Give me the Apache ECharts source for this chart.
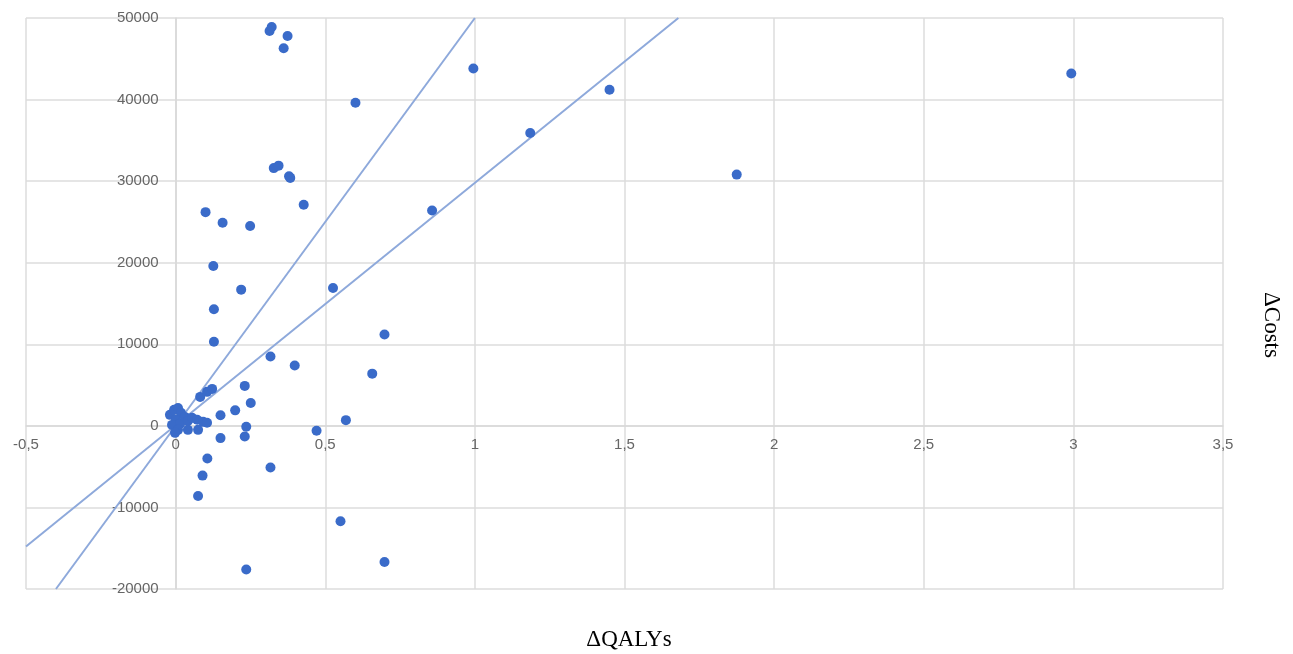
<!DOCTYPE html>
<html>
<head>
<meta charset="utf-8">
<style>
  html, body { margin: 0; padding: 0; background: #fff; }
  #chart { width: 1293px; height: 654px; }
</style>
</head>
<body>
<div id="chart"></div>
<script src="https://cdn.jsdelivr.net/npm/echarts@6/dist/echarts.min.js"></script>
<script>
// incremental QALYs / costs per study
var points = [
  [0.314, 48400], [0.321, 48900], [0.374, 47800], [0.361, 46300],
  [0.601, 39600], [0.328, 31600], [0.344, 31900], [0.379, 30600], [0.383, 30400],
  [0.428, 27100], [0.100, 26200], [0.157, 24900], [0.249, 24500],
  [0.857, 26400], [0.126, 19600], [0.219, 16700], [0.526, 16900],
  [0.995, 43800], [1.450, 41200], [1.185, 35900], [1.875, 30800], [2.993, 43200],
  [0.128, 14300], [0.128, 10300], [0.698, 11200], [0.317, 8500], [0.398, 7400],
  [0.657, 6400], [0.231, 4900], [0.251, 2800], [0.199, 1900], [0.150, 1300],
  [0.569, 700], [0.236, -100], [0.471, -600], [0.231, -1300], [0.150, -1500],
  [0.106, -4000], [0.317, -5100], [0.090, -6100], [0.075, -8600],
  [0.551, -11700], [0.698, -16700], [0.236, -17600],
  [0.082, 3550], [0.105, 4170], [0.122, 4530],
  [-0.019, 1350], [-0.005, 1960], [0.008, 2200], [0.018, 1600], [0.001, 740],
  [-0.012, 120], [0.015, 250], [0.031, 1100], [0.041, 610], [0.055, 980],
  [0.072, 740], [0.092, 490], [0.105, 370], [0.041, -490], [0.075, -490],
  [0.008, -490], [-0.002, -860]
];

// threshold lines (end points)
var lineSteep = [[-0.4, -20000], [1, 50000]];
var lineShallow = [[-0.5, -14800], [1.68, 50000]];

var xTicks = { min: -0.5, max: 3.5, interval: 0.5 };
var yTicks = { min: -20000, max: 50000, interval: 10000 };

var chart = echarts.init(document.getElementById('chart'));

function fmt(v) {
    return String(v).replace('.', ',');
}

var option = {
    animation: false,
    grid: { left: 26, right: 70, top: 18, bottom: 65, outerBoundsMode: 'none', containLabel: false },
    xAxis: {
        type: 'value',
        min: xTicks.min, max: xTicks.max, interval: xTicks.interval,
        axisLine: { onZero: false, lineStyle: { color: '#d9d9d9', width: 1.5 } },
        axisTick: { show: false },
        axisLabel: { color: '#666', fontFamily: 'Liberation Sans', fontSize: 15, margin: 12, formatter: fmt },
        splitLine: { lineStyle: { color: '#dcdcdc', width: 1.5 } }
    },
    yAxis: {
        type: 'value',
        min: yTicks.min, max: yTicks.max, interval: yTicks.interval,
        axisLine: { show: true, onZero: false, lineStyle: { color: '#d9d9d9', width: 1.5 } },
        axisTick: { show: false },
        axisLabel: { color: '#666', fontFamily: 'Liberation Sans', fontSize: 15, margin: 17, formatter: fmt },
        splitLine: { lineStyle: { color: '#dcdcdc', width: 1.5 } }
    },
    graphic: [
        {
            type: 'text', x: 629, y: 640,
            style: { text: 'ΔQALYs', font: '23px "Liberation Serif"', fill: '#000', align: 'center', verticalAlign: 'middle' }
        },
        {
            type: 'text', x: 1271, y: 325, rotation: -Math.PI / 2,
            style: { text: 'ΔCosts', font: '23px "Liberation Serif"', fill: '#000', align: 'center', verticalAlign: 'middle' }
        }
    ],
    series: [
        {
            type: 'line', data: lineSteep, symbol: 'none', clip: true, z: 2,
            lineStyle: { color: '#8ea9db', width: 2 }
        },
        {
            type: 'line', data: lineShallow, symbol: 'none', clip: true, z: 2,
            lineStyle: { color: '#8ea9db', width: 2 }
        },
        {
            type: 'scatter', data: points, symbolSize: 10, z: 3,
            itemStyle: { color: '#3a6bc9', opacity: 1 }
        }
    ]
};
chart.setOption(option);

// move both axes (line + labels) to cross at the origin
var origin = chart.convertToPixel({ gridIndex: 0 }, [0, 0]);
var corner = chart.convertToPixel({ gridIndex: 0 }, [xTicks.min, yTicks.min]);
chart.setOption({
    xAxis: { offset: -(corner[1] - origin[1]) },
    yAxis: { offset: -(origin[0] - corner[0]) }
});
</script>
</body>
</html>
